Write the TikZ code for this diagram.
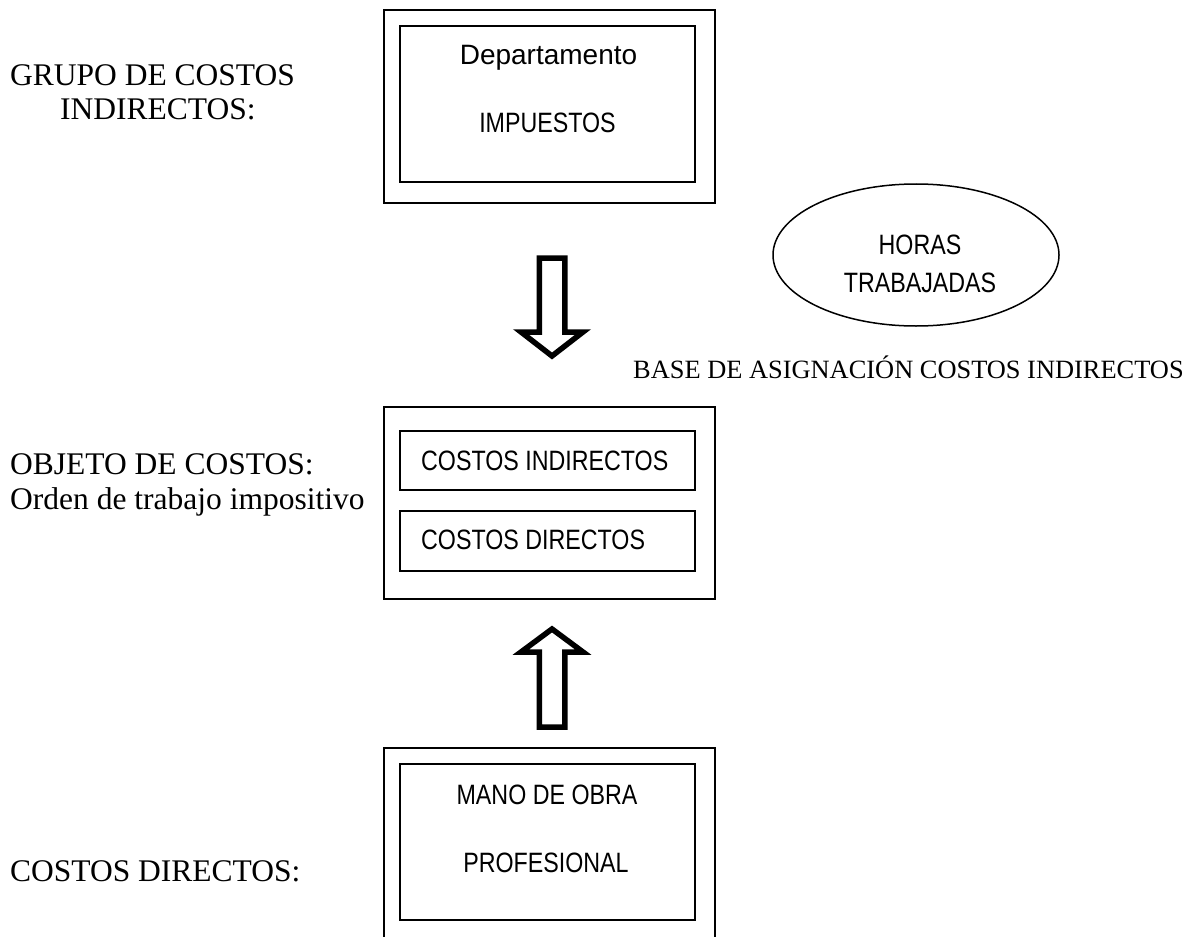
\documentclass[tikz,border=0pt]{standalone}
\usepackage{fontspec}
\setmainfont{Liberation Serif}
\newfontfamily\sansn[FakeStretch=0.83]{Liberation Sans}
\newfontfamily\sanst{Liberation Sans}
\usetikzlibrary{shapes.geometric}
\begin{document}
\begin{tikzpicture}[x=1pt,y=-1pt,
  outerbox/.style={draw,line width=1.8pt,inner sep=0pt,outer sep=0pt,minimum width=330.4pt,minimum height=193pt},
  innerbox/.style={draw,line width=1.8pt,inner sep=0pt,outer sep=0pt,minimum width=294.7pt},
  sanslbl/.style={anchor=base,inner sep=0pt,font=\sansn\fontsize{28}{34}\selectfont},
  sanslbll/.style={anchor=base west,inner sep=0pt,font=\sansn\fontsize{28}{34}\selectfont},
  seriflbl/.style={anchor=base west,inner sep=0pt,font=\fontsize{31.5}{37}\selectfont},
  blockarrow/.style={draw,line width=5.5pt,fill=white,line join=miter,miter limit=10}]
\useasboundingbox (0,0) rectangle (1190,936);
\clip (0,0) rectangle (1190,936);
\fill[white] (0,0) rectangle (1190,936);

% top group
\node[outerbox] (topout) at (549.5,106.5) {};
\node[innerbox,minimum height=156pt] (topin) at (547.7,104) {};
\node[anchor=base,inner sep=0pt,font=\sanst\fontsize{28}{34}\selectfont] (dep) at (548.5,65) {Departamento};
\node[sanslbl] (imp) at (547.5,133) {IMPUESTOS};

% ellipse
\node[draw,ellipse,line width=1.5pt,minimum width=286pt,minimum height=142pt,inner sep=0pt] (horas) at (916,255) {};
\node[sanslbl] (hor1) at (920,254) {HORAS};
\node[sanslbl] (hor2) at (920,292) {TRABAJADAS};

\node[anchor=base west,inner sep=0pt,font=\fontsize{26.4}{32}\selectfont] (base) at (633,378) {BASE DE ASIGNACIÓN COSTOS INDIRECTOS};

% middle group
\node[outerbox,minimum height=192pt] (midout) at (549.5,503) {};
\node[innerbox,minimum height=59pt] (midin1) at (547.7,460.5) {};
\node[innerbox,minimum height=60pt] (midin2) at (547.7,541) {};
\node[sanslbll] (ci) at (421,470) {COSTOS INDIRECTOS};
\node[sanslbll] (cd) at (421,549) {COSTOS DIRECTOS};

% bottom group
\node[outerbox] (botout) at (549.5,844.5) {};
\node[innerbox,minimum height=156pt] (botin) at (547.7,842) {};
\node[sanslbl] (mano) at (547,804) {MANO DE OBRA};
\node[sanslbl] (prof) at (546,872) {PROFESIONAL};

% left labels
\node[seriflbl] (g1) at (10,86) {GRUPO DE COSTOS};
\node[seriflbl] (g2) at (60,120) {INDIRECTOS:};
\node[seriflbl] (o1) at (10,474) {OBJETO DE COSTOS:};
\node[seriflbl] (o2) at (10,509) {Orden de trabajo impositivo};
\node[seriflbl] (c1) at (10,881) {COSTOS DIRECTOS:};

% block arrows
\coordinate (dtail) at (552,258);
\coordinate (dtip) at (552,356);
\draw[blockarrow] (dtail) ++(-12.75,0) -- ++(0,74) -- ++(-18.25,0) -- (dtip) -- ++(31,-24) -- ++(-18.25,0) -- ++(0,-74) -- cycle;
\coordinate (utail) at (552,727);
\coordinate (utip) at (552,629);
\draw[blockarrow] (utail) ++(-12.75,0) -- ++(0,-75) -- ++(-18.25,0) -- (utip) -- ++(31,23) -- ++(-18.25,0) -- ++(0,75) -- cycle;
\end{tikzpicture}
\end{document}
